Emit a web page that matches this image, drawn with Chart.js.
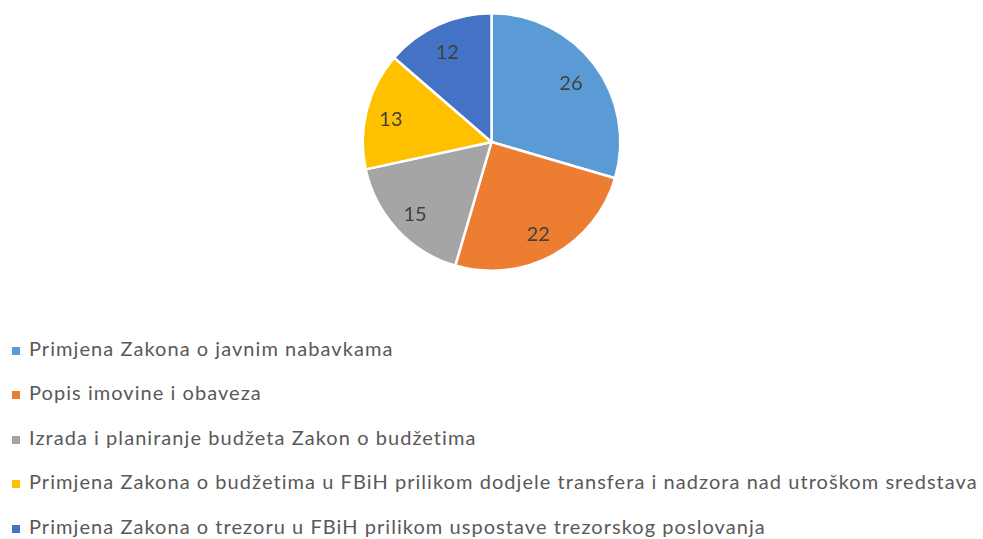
<!DOCTYPE html>
<html>
<head>
<meta charset="utf-8">
<script src="https://cdn.jsdelivr.net/npm/chart.js@4"></script>
<style>
  html,body{margin:0;padding:0;background:#fff;}
  body{width:983px;height:539px;position:relative;overflow:hidden;font-family:Lato,"Noto Sans",sans-serif;}
  #pieBox{position:absolute;left:0;top:12px;width:983px;height:260px;}
  #legend{position:absolute;left:12px;top:334.5px;margin:0;padding:0;list-style:none;}
  #legend li{height:44.5px;line-height:26px;font-size:20px;letter-spacing:1.05px;color:#595959;white-space:nowrap;}
  #legend span.box{display:inline-block;width:8px;height:8px;margin-right:9px;vertical-align:1px;}
</style>
</head>
<body>
<div id="pieBox"><canvas id="pie"></canvas></div>
<ul id="legend"></ul>
<script>
// data
const categories = [
  'Primjena Zakona o javnim nabavkama',
  'Popis imovine i obaveza',
  'Izrada i planiranje budžeta Zakon o budžetima',
  'Primjena Zakona o budžetima u FBiH prilikom dodjele transfera i nadzora nad utroškom sredstava',
  'Primjena Zakona o trezoru u FBiH prilikom uspostave trezorskog poslovanja'
];
const counts = [26, 22, 15, 13, 12];
const colors = ['#5B9BD5', '#ED7D31', '#A5A5A5', '#FFC000', '#4472C4'];

// value labels inside slices, like excel does
const sliceLabels = {
  id: 'sliceLabels',
  afterDatasetsDraw(chart){
    const ctx = chart.ctx;
    const meta = chart.getDatasetMeta(0);
    ctx.save();
    ctx.font = '20px Lato, "Noto Sans", sans-serif';
    ctx.fillStyle = '#404040';
    ctx.textAlign = 'center';
    ctx.textBaseline = 'middle';
    meta.data.forEach((arc, i) => {
      const p = arc.getProps(['x','y','startAngle','endAngle','outerRadius'], true);
      const mid = (p.startAngle + p.endAngle) / 2;
      const r = p.outerRadius * 0.79;
      ctx.fillText(String(counts[i]), p.x + Math.cos(mid) * r - 2, p.y + Math.sin(mid) * r + 3);
    });
    ctx.restore();
  }
};

new Chart(document.getElementById('pie'), {
  type: 'pie',
  data: {
    labels: categories,
    datasets: [{ data: counts, backgroundColor: colors, borderColor: '#fff', borderWidth: 2.5 }]
  },
  options: {
    responsive: true,
    maintainAspectRatio: false,
    animation: false,
    layout: { padding: 0 },
    plugins: { legend: { display: false }, tooltip: { enabled: false } }
  },
  plugins: [sliceLabels]
});

// legend as plain html, one entry per line
const ul = document.getElementById('legend');
categories.forEach((c, i) => {
  const li = document.createElement('li');
  const box = document.createElement('span');
  box.className = 'box';
  box.style.background = colors[i];
  li.appendChild(box);
  li.appendChild(document.createTextNode(c));
  ul.appendChild(li);
});
</script>
</body>
</html>
